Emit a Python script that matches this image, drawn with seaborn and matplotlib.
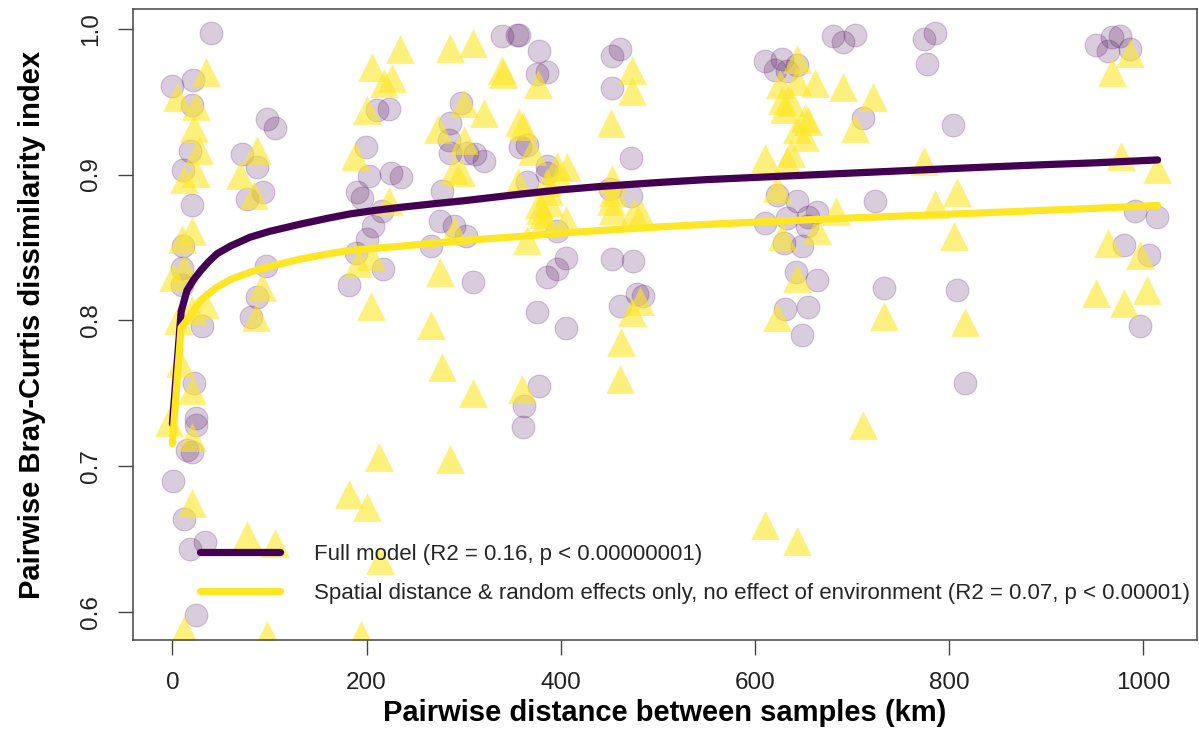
import pandas as pd
import matplotlib
matplotlib.use("Agg")
import matplotlib.pyplot as plt
import seaborn as sns

# -------------------------------
# 1. Data
# -------------------------------
# observed pairwise dissimilarities (purple circles)
circle_km = [40, 0, 21, 20, 18, 11, 20, 11, 10, 10, 31,
             97, 106, 72, 87, 77, 93, 96, 87, 81,
             22, 24, 24, 15, 20, 1, 12, 34, 18, 24,
             211, 223, 199, 203, 225, 235, 190, 195, 216, 207, 200, 189, 217, 182,
             297, 286, 285, 286, 303, 312, 321, 278, 276, 290, 302, 266, 310,
             340, 355, 357, 378, 376, 386, 358, 365, 386, 386, 365, 396, 405, 396, 386, 376, 405, 378, 362, 361,
             453, 461, 453, 472, 472, 451, 453, 475, 479, 485, 461,
             681, 691, 703, 611, 628, 621, 633, 643, 712, 623, 643, 633, 611, 655, 664, 654,
             630, 649, 642, 664, 631, 655, 649, 724, 733,
             774, 786, 777, 804, 808, 817,
             952, 968, 976, 964, 987, 992, 1014, 980, 1006, 997]
circle_bc = [0.997, 0.961, 0.965, 0.948, 0.916, 0.903, 0.879, 0.851, 0.836, 0.824, 0.796,
             0.938, 0.932, 0.914, 0.905, 0.883, 0.888, 0.837, 0.816, 0.802,
             0.757, 0.733, 0.728, 0.711, 0.710, 0.690, 0.664, 0.648, 0.643, 0.598,
             0.944, 0.945, 0.919, 0.899, 0.901, 0.898, 0.888, 0.884, 0.875, 0.865, 0.856, 0.846, 0.835, 0.824,
             0.949, 0.935, 0.924, 0.915, 0.915, 0.914, 0.909, 0.889, 0.868, 0.865, 0.858, 0.851, 0.826,
             0.995, 0.996, 0.996, 0.985, 0.969, 0.970, 0.919, 0.920, 0.906, 0.901, 0.895, 0.861, 0.843, 0.835, 0.830, 0.806, 0.795, 0.755, 0.741, 0.727,
             0.981, 0.986, 0.959, 0.911, 0.885, 0.890, 0.842, 0.841, 0.818, 0.817, 0.810,
             0.995, 0.991, 0.996, 0.978, 0.979, 0.972, 0.971, 0.975, 0.939, 0.886, 0.882, 0.870, 0.867, 0.871, 0.874, 0.865,
             0.853, 0.851, 0.833, 0.828, 0.808, 0.809, 0.790, 0.882, 0.822,
             0.993, 0.997, 0.976, 0.934, 0.821, 0.757,
             0.989, 0.994, 0.995, 0.985, 0.986, 0.875, 0.871, 0.852, 0.845, 0.796]

# predictions from the spatial-only model (yellow triangles)
tri_km = [35, 5, 24, 22, 27, 24, 12, 20, 10, 12, 1, 34, 20, 6,
          87, 70, 84, 92, 86,
          8, 20, -3, 20, 20, 77, 106, 12, 97,
          234, 206, 218, 226, 200, 188, 223, 205, 191, 205,
          213, 182, 200, 214, 194,
          286, 310, 300, 321, 274, 300, 290, 297, 290, 276, 266, 278, 310, 286,
          340, 341, 377, 357, 361, 370, 356, 396, 407, 386, 398, 388, 378, 388, 382, 379, 405, 382, 365, 360,
          473, 473, 452, 453, 454, 452, 454, 476, 483, 482, 474, 462, 461,
          643, 626, 643, 662, 691, 628, 637, 630, 652, 655, 643, 652, 703, 611, 637, 633, 722,
          623, 684, 628, 664, 643, 623, 611, 643, 712,
          774, 808, 786, 805, 733, 817,
          987, 968, 977, 1014, 964, 997, 952, 980, 1004]
tri_bc = [0.970, 0.953, 0.947, 0.932, 0.917, 0.901, 0.897, 0.861, 0.856, 0.836, 0.830, 0.811, 0.807, 0.800,
          0.917, 0.900, 0.886, 0.823, 0.802,
          0.771, 0.752, 0.730, 0.720, 0.675, 0.653, 0.647, 0.588, 0.584,
          0.986, 0.974, 0.963, 0.966, 0.944, 0.913, 0.882, 0.844, 0.839, 0.810,
          0.706, 0.681, 0.672, 0.636, 0.584,
          0.987, 0.990, 0.949, 0.942, 0.931, 0.924, 0.903, 0.902, 0.861, 0.833, 0.797, 0.768, 0.750, 0.705,
          0.972, 0.969, 0.962, 0.936, 0.933, 0.916, 0.895, 0.906, 0.905, 0.895, 0.898, 0.889, 0.880, 0.881, 0.873, 0.876, 0.869, 0.867, 0.855, 0.753,
          0.972, 0.957, 0.935, 0.897, 0.888, 0.882, 0.876, 0.874, 0.873, 0.813, 0.806, 0.785, 0.760,
          0.979, 0.962, 0.964, 0.963, 0.960, 0.951, 0.950, 0.945, 0.939, 0.937, 0.931, 0.926, 0.932, 0.911, 0.915, 0.909, 0.953,
          0.891, 0.875, 0.858, 0.862, 0.829, 0.802, 0.660, 0.649, 0.728,
          0.909, 0.888, 0.880, 0.858, 0.803, 0.799,
          0.983, 0.970, 0.913, 0.904, 0.853, 0.845, 0.819, 0.812, 0.821]

# fitted curves
full_km = [0, 9, 15, 22, 29, 37, 46, 60, 80, 100, 132, 160, 183, 210, 235, 270, 300, 358,
           400, 441, 500, 550, 600, 650, 700, 750, 800, 853, 900, 950, 1015]
full_bc = [0.729, 0.806, 0.8205, 0.828, 0.834, 0.840, 0.8457, 0.851, 0.857, 0.861, 0.866,
           0.870, 0.873, 0.8755, 0.8775, 0.880, 0.882, 0.8865,
           0.8895, 0.8918, 0.8945, 0.8965, 0.898, 0.8995, 0.901, 0.9025, 0.904, 0.9055,
           0.9068, 0.908, 0.910]
spat_km = [0, 9, 15, 22, 29, 37, 46, 60, 80, 100, 132, 160, 183, 210, 235, 270, 300, 358,
           400, 441, 500, 550, 600, 650, 700, 750, 800, 853, 900, 950, 1015]
spat_bc = [0.7155, 0.795, 0.800, 0.807, 0.8137, 0.818, 0.8228, 0.828, 0.833, 0.837, 0.842,
           0.8455, 0.848, 0.8495, 0.8508, 0.853, 0.8548, 0.8575,
           0.8598, 0.8616, 0.864, 0.8658, 0.8673, 0.8688, 0.8702, 0.8715, 0.8728, 0.8742,
           0.8755, 0.8768, 0.8788]

full_label = "Full model (R2 = 0.16, p < 0.00000001)"
spat_label = ("Spatial distance & random effects only, no effect of environment "
              "(R2 = 0.07, p < 0.00001)")

circles = pd.DataFrame({"km": circle_km, "bc": circle_bc})
triangles = pd.DataFrame({"km": tri_km, "bc": tri_bc})
full_fit = pd.DataFrame({"km": full_km, "bc": full_bc})
spat_fit = pd.DataFrame({"km": spat_km, "bc": spat_bc})

PURPLE = "#440154"
YELLOW = "#FDE725"

# -------------------------------
# 2. Plot
# -------------------------------
sns.set_theme(style="white")
plt.rcParams["font.family"] = ["Liberation Sans", "DejaVu Sans"]

fig = plt.figure(figsize=(11.99, 7.30), dpi=100)
ax = fig.add_axes([133 / 1199, 1 - 640 / 730, 1064 / 1199, 631 / 730])

sns.scatterplot(data=circles, x="km", y="bc", ax=ax, marker="o", s=270,
                color=PURPLE, alpha=0.2, edgecolor=PURPLE, linewidth=0.8, legend=False)
sns.scatterplot(data=triangles, x="km", y="bc", ax=ax, marker="^", s=430,
                color=YELLOW, alpha=0.6, linewidth=0, legend=False)
sns.lineplot(data=full_fit, x="km", y="bc", ax=ax, color=PURPLE, linewidth=5.2,
             estimator=None, sort=False, label=full_label, solid_capstyle="round",
             solid_joinstyle="round")
sns.lineplot(data=spat_fit, x="km", y="bc", ax=ax, color=YELLOW, linewidth=5.2,
             estimator=None, sort=False, label=spat_label, solid_capstyle="round",
             solid_joinstyle="round")

ax.set_xlim(-40.6, 1055.6)
ax.set_ylim(0.5808, 1.0135)
ax.set_xticks([0, 200, 400, 600, 800, 1000])
ax.set_yticks([0.6, 0.7, 0.8, 0.9, 1.0])
ax.set_yticklabels(["0.6", "0.7", "0.8", "0.9", "1.0"], rotation=90, va="center")
ax.tick_params(axis="both", bottom=True, left=True, direction="out", length=11,
               width=1, color="#444444", labelsize=17.5, labelcolor="#222222")
ax.tick_params(axis="x", pad=12)
ax.tick_params(axis="y", pad=11)
for sp in ax.spines.values():
    sp.set_visible(True)
    sp.set_color("#444444")
    sp.set_linewidth(1.1)

ax.set_xlabel("Pairwise distance between samples (km)", fontsize=21, fontweight="bold", color="black")
ax.set_ylabel("Pairwise Bray-Curtis dissimilarity index", fontsize=21, fontweight="bold", color="black")
ax.xaxis.set_label_coords(0.5, -0.094)
ax.yaxis.set_label_coords(-0.082, 0.5)

ax.legend(loc="center left", bbox_to_anchor=(0.063, 0.1046), frameon=False, fontsize=16,
          handlelength=3.6, handletextpad=1.55, labelspacing=0.8, borderpad=0, borderaxespad=0)

plt.savefig("out.png", dpi=100)
